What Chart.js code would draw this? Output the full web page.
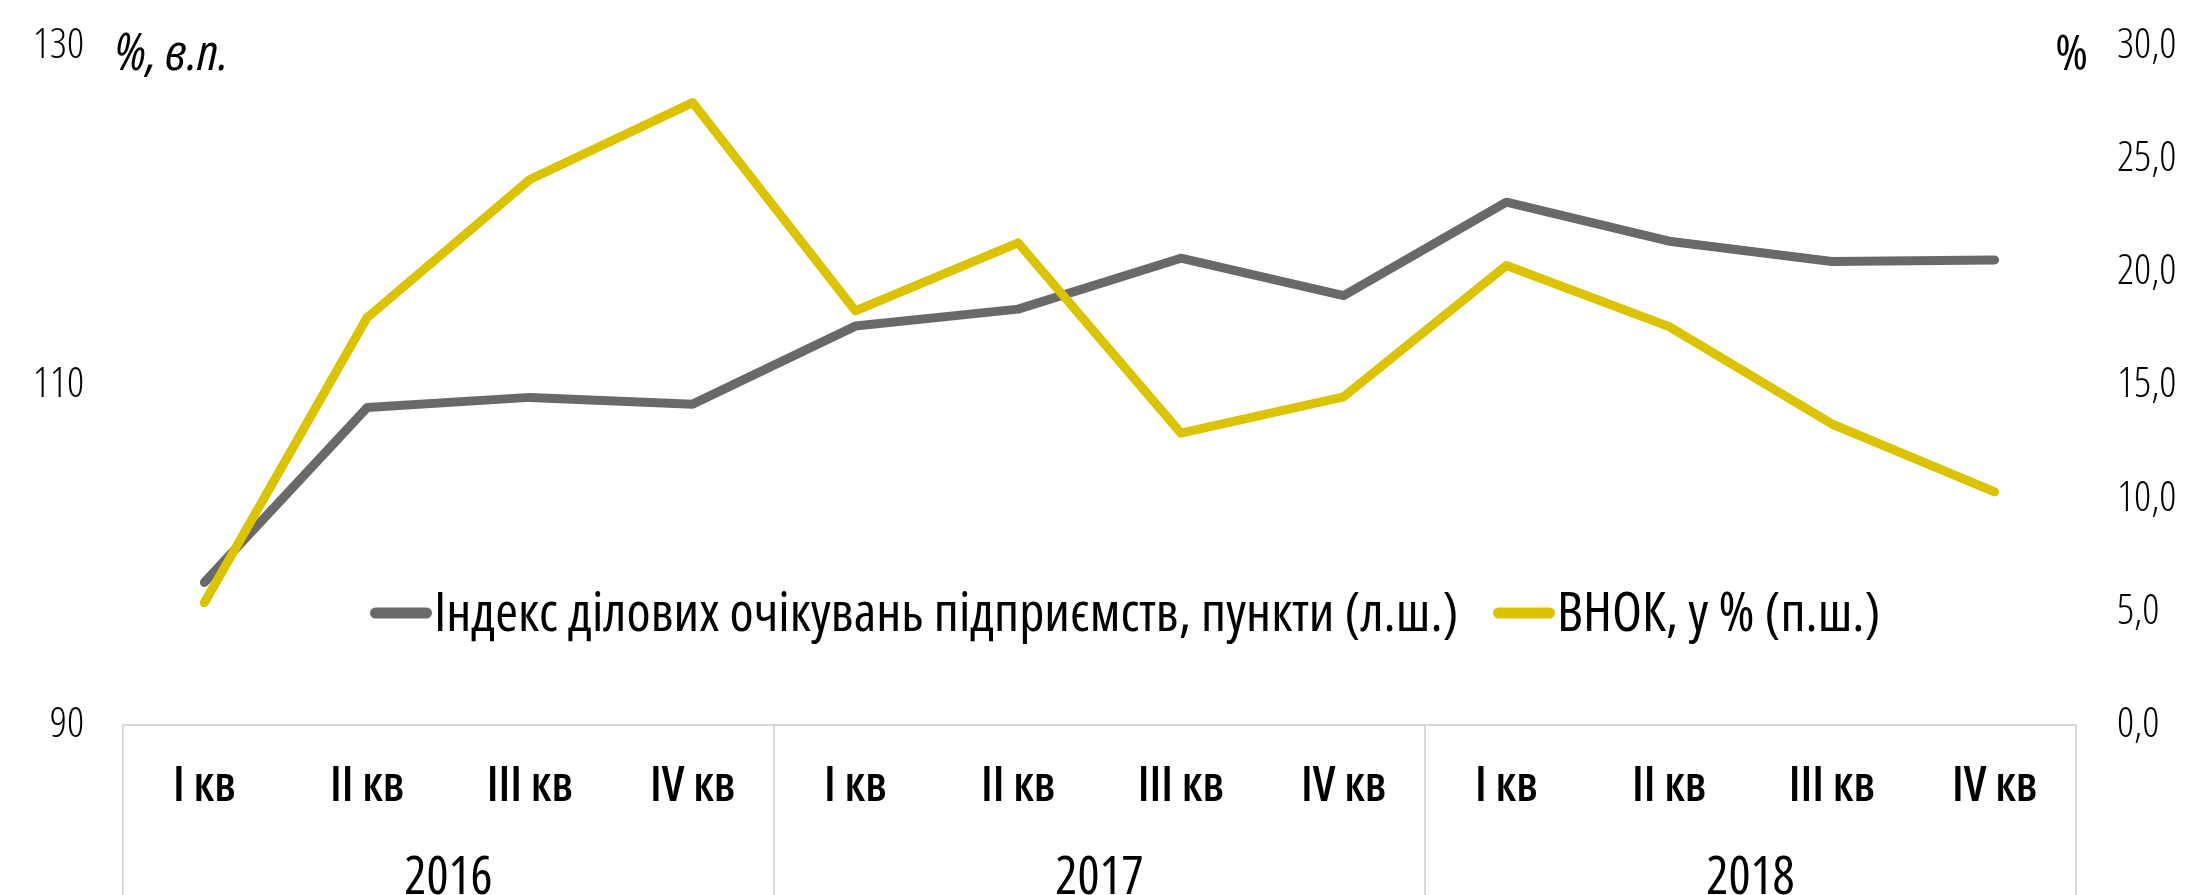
<!DOCTYPE html>
<html>
<head>
<meta charset="utf-8">
<script src="https://cdn.jsdelivr.net/npm/chart.js@4.4.1/dist/chart.umd.min.js"></script>
<style>
html,body{margin:0;padding:0;background:#fff;overflow:hidden}
#wrap{position:relative;width:2199px;height:895px}
</style>
</head>
<body>
<div id="wrap"><canvas id="c" width="2199" height="895"></canvas></div>
<script>
// ---- data ----
const quarters = ['I кв','II кв','III кв','IV кв','I кв','II кв','III кв','IV кв','I кв','II кв','III кв','IV кв'];
const years = ['2016','2017','2018'];
const businessExpectations = [98.4, 108.7, 109.3, 108.9, 113.5, 114.5, 117.5, 115.3, 120.8, 118.5, 117.3, 117.4];
const gfcfGrowth = [5.4, 18.0, 24.1, 27.5, 18.3, 21.3, 12.9, 14.5, 20.3, 17.6, 13.3, 10.3];
const seriesLabels = ['Індекс ділових очікувань підприємств, пункти (л.ш.)', 'ВНОК, у % (п.ш.)'];
const leftAxisTitle = '%, в.п.';
const rightAxisTitle = '%';

// ---- style ----
const GREY = '#6b6967';
const YELLOW = '#dbc300';
const FAM = "'Open Sans', sans-serif";
const legendX = [370, 1493];
const NONE = 'rgba(0,0,0,0)';

const overlayPlugin = {
  id: 'overlay',
  afterDraw(chart) {
    const ctx = chart.ctx;
    ctx.save();
    ctx.fillStyle = '#000';
    ctx.textBaseline = 'alphabetic';
    ctx.font = "italic condensed 52px " + FAM;
    ctx.textAlign = 'left';
    ctx.fillText(leftAxisTitle, 115, 70);
    ctx.font = "condensed 50px " + FAM;
    ctx.textAlign = 'right';
    ctx.fillText(rightAxisTitle, 2088, 70);
    // legend
    ctx.font = "condensed 55px " + FAM;
    ctx.textAlign = 'left';
    const y = 613;
    chart.data.datasets.forEach((ds, i) => {
      const x = legendX[i];
      ctx.strokeStyle = ds.borderColor;
      ctx.lineWidth = 11;
      ctx.lineCap = 'round';
      ctx.beginPath();
      ctx.moveTo(x + 5.5, y);
      ctx.lineTo(x + 56.5, y);
      ctx.stroke();
      ctx.fillText(ds.label, x + 64, 631);
    });
    ctx.restore();
  }
};

new Chart(document.getElementById('c'), {
  type: 'line',
  data: {
    labels: quarters,
    datasets: [
      { label: seriesLabels[0], data: businessExpectations, yAxisID: 'y', xAxisID: 'x',
        borderColor: GREY, backgroundColor: GREY, borderWidth: 9, pointRadius: 0, tension: 0,
        borderCapStyle: 'round', borderJoinStyle: 'round', order: 2 },
      { label: seriesLabels[1], data: gfcfGrowth, yAxisID: 'y1', xAxisID: 'x',
        borderColor: YELLOW, backgroundColor: YELLOW, borderWidth: 9, pointRadius: 0, tension: 0,
        borderCapStyle: 'round', borderJoinStyle: 'round', order: 1 }
    ]
  },
  options: {
    responsive: false,
    devicePixelRatio: 1,
    animation: false,
    layout: { padding: { top: 46, left: 0, right: 0, bottom: 0 } },
    plugins: { legend: { display: false }, tooltip: { enabled: false } },
    scales: {
      x: {
        type: 'category', position: 'bottom', offset: true,
        grid: { display: true, offset: true, drawOnChartArea: false, drawTicks: true, tickLength: 100,
          lineWidth: 2,
          color: c => (c.index === undefined || c.index % 4 === 0) ? '#d9d9d9' : NONE },
        border: { display: true, color: '#d9d9d9', width: 2 },
        ticks: { font: { family: FAM, size: 48, weight: '600 condensed' }, color: '#000', padding: -66,
          maxRotation: 0, autoSkip: false },
        afterFit: s => { s.height = 100; }
      },
      x2: {
        type: 'category', labels: years, position: 'bottom', offset: true,
        grid: { display: true, offset: true, drawOnChartArea: false, drawTicks: true, tickLength: 70,
          lineWidth: 2, color: '#d9d9d9' },
        border: { display: false },
        ticks: { font: { family: FAM, size: 52, weight: 'condensed' }, color: '#000', padding: -47, maxRotation: 0 },
        afterFit: s => { s.height = 70; }
      },
      y: {
        position: 'left', min: 90, max: 130,
        grid: { display: true, drawOnChartArea: false, drawTicks: true, tickLength: 39, color: NONE },
        border: { display: false },
        ticks: { stepSize: 20, font: { family: FAM, size: 42, weight: '300 condensed' }, color: '#000', padding: 0 },
        afterFit: s => { s.width = 123; }
      },
      y1: {
        position: 'right', min: 0, max: 30,
        grid: { display: true, drawOnChartArea: false, drawTicks: true, tickLength: 41, color: NONE },
        border: { display: false },
        ticks: { stepSize: 5, font: { family: FAM, size: 42, weight: '300 condensed' }, color: '#000', padding: 0,
          callback: v => v.toFixed(1).replace('.', ',') },
        afterFit: s => { s.width = 123; }
      }
    }
  },
  plugins: [overlayPlugin]
});
</script>
</body>
</html>
